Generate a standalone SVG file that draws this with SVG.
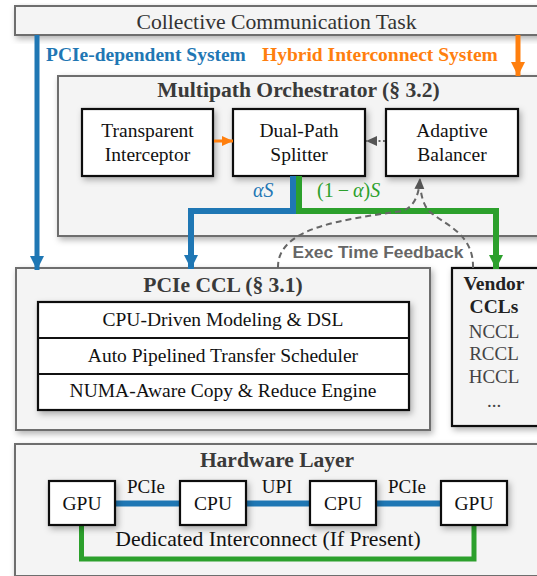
<svg xmlns="http://www.w3.org/2000/svg" width="537" height="576" viewBox="0 0 537 576">
  <style>
    .t { font-family: "Liberation Serif", "Times New Roman", serif; fill: #111; }
    .title { font-family: "Liberation Serif", "Times New Roman", serif; font-weight: bold; fill: #3a3a3a; }
    .outer { fill: #f4f4f4; stroke: #6e6e6e; stroke-width: 2; }
    .inner { fill: #ffffff; stroke: #111; stroke-width: 2.2; }
    .blue { stroke: #1f77b4; fill: none; }
    .green { stroke: #2ca02c; fill: none; }
    .fb { stroke: #666; stroke-width: 2; stroke-dasharray: 6 4; fill: none; }
  </style>
  <defs>
    <filter id="sh" x="-10%" y="-10%" width="130%" height="140%">
      <feDropShadow dx="2" dy="3" stdDeviation="3" flood-color="#000" flood-opacity="0.3"/>
    </filter>
    <marker id="ahBlue" markerUnits="userSpaceOnUse" markerWidth="16" markerHeight="16" viewBox="0 0 16 16" refX="14" refY="8" orient="auto">
      <path d="M0,1 L14,8 L0,15 Z" fill="#1f77b4"/>
    </marker>
    <marker id="ahGreen" markerUnits="userSpaceOnUse" markerWidth="16" markerHeight="16" viewBox="0 0 16 16" refX="14" refY="8" orient="auto">
      <path d="M0,1 L14,8 L0,15 Z" fill="#2ca02c"/>
    </marker>
    <marker id="ahOrange" markerUnits="userSpaceOnUse" markerWidth="16" markerHeight="16" viewBox="0 0 16 16" refX="14" refY="8" orient="auto">
      <path d="M0,1 L14,8 L0,15 Z" fill="#ff7f0e"/>
    </marker>
    <marker id="ahOrangeS" markerUnits="userSpaceOnUse" markerWidth="12" markerHeight="12" viewBox="0 0 12 12" refX="11" refY="6" orient="auto">
      <path d="M0,1 L11,6 L0,11 Z" fill="#ff7f0e"/>
    </marker>
    <marker id="ahGray" markerUnits="userSpaceOnUse" markerWidth="12" markerHeight="12" viewBox="0 0 12 12" refX="11" refY="6" orient="auto">
      <path d="M0,1 L11,6 L0,11 Z" fill="#555"/>
    </marker>
  </defs>

  <rect width="537" height="576" fill="#ffffff"/>

  <!-- task header -->
  <g id="task">
    <rect x="15" y="6" width="530" height="29" fill="#f4f4f4" stroke="#6e6e6e" stroke-width="2" filter="url(#sh)"/>
    <text class="t" x="276.5" y="29" font-size="21.7" text-anchor="middle" style="fill:#333">Collective Communication Task</text>
  </g>

  <!-- system labels -->
  <g id="system-labels" font-family="Liberation Serif, serif" font-weight="bold" font-size="19.5">
    <text x="46" y="61" fill="#1f77b4">PCIe-dependent System</text>
    <text x="262" y="61" fill="#ff7f0e">Hybrid Interconnect System</text>
  </g>

  <!-- multipath orchestrator -->
  <g id="orchestrator">
    <rect class="outer" x="58" y="76" width="490" height="160" filter="url(#sh)"/>
    <text class="title" x="298.5" y="97" font-size="21.6" text-anchor="middle">Multipath Orchestrator (§ 3.2)</text>
  </g>
  <g id="interceptor">
    <rect class="inner" x="82" y="109" width="131" height="67" filter="url(#sh)"/>
    <text class="t" x="147.5" y="137" font-size="19.5" text-anchor="middle">Transparent</text>
    <text class="t" x="147.5" y="161" font-size="19.5" text-anchor="middle">Interceptor</text>
  </g>
  <g id="splitter">
    <rect class="inner" x="233" y="109" width="132" height="67" filter="url(#sh)"/>
    <text class="t" x="299" y="137" font-size="19.5" text-anchor="middle">Dual-Path</text>
    <text class="t" x="299" y="161" font-size="19.5" text-anchor="middle">Splitter</text>
  </g>
  <g id="balancer">
    <rect class="inner" x="386" y="109" width="132" height="67" filter="url(#sh)"/>
    <text class="t" x="452" y="137" font-size="19.5" text-anchor="middle">Adaptive</text>
    <text class="t" x="452" y="161" font-size="19.5" text-anchor="middle">Balancer</text>
  </g>

  <!-- PCIe CCL -->
  <g id="pcie-ccl">
    <rect class="outer" x="16" y="268" width="414" height="162" filter="url(#sh)"/>
    <text class="title" x="223" y="292" font-size="21.6" text-anchor="middle">PCIe CCL (§ 3.1)</text>
    <g filter="url(#sh)">
      <rect class="inner" x="38" y="302" width="371" height="108"/>
    </g>
    <line x1="38" y1="338" x2="409" y2="338" stroke="#111" stroke-width="2.2"/>
    <line x1="38" y1="374" x2="409" y2="374" stroke="#111" stroke-width="2.2"/>
    <text class="t" x="223" y="326" font-size="19.5" text-anchor="middle">CPU-Driven Modeling &amp; DSL</text>
    <text class="t" x="223" y="362" font-size="19.5" text-anchor="middle">Auto Pipelined Transfer Scheduler</text>
    <text class="t" x="223" y="397" font-size="19.5" text-anchor="middle">NUMA-Aware Copy &amp; Reduce Engine</text>
  </g>

  <!-- vendor CCLs -->
  <g id="vendor-ccls">
    <rect x="452" y="268" width="100" height="158" fill="#f4f4f4" stroke="#111" stroke-width="2.2" filter="url(#sh)"/>
    <text class="title" x="494" y="290" font-size="19.5" text-anchor="middle" style="fill:#222">Vendor</text>
    <text class="title" x="494" y="313" font-size="19.5" text-anchor="middle" style="fill:#222">CCLs</text>
    <g font-family="Liberation Serif, serif" font-size="19" fill="#444" text-anchor="middle">
      <text x="494" y="338">NCCL</text>
      <text x="494" y="360">RCCL</text>
      <text x="494" y="383">HCCL</text>
      <text x="494" y="407">...</text>
    </g>
  </g>

  <!-- hardware layer -->
  <g id="hardware">
    <rect class="outer" x="15" y="444" width="540" height="132" filter="url(#sh)"/>
    <text class="title" x="277" y="467" font-size="21.5" text-anchor="middle">Hardware Layer</text>
  </g>

  <!-- connectors -->
  <g id="connectors">
    <!-- system entry arrows -->
    <line x1="37" y1="35" x2="37" y2="270" stroke="#1f77b4" stroke-width="5" marker-end="url(#ahBlue)"/>
    <line x1="518" y1="35" x2="518" y2="76" stroke="#ff7f0e" stroke-width="5" marker-end="url(#ahOrange)"/>
    <!-- interceptor to splitter -->
    <line x1="214" y1="141" x2="233" y2="141" stroke="#ff7f0e" stroke-width="3" marker-end="url(#ahOrangeS)"/>
    <!-- balancer to splitter -->
    <line x1="385" y1="141" x2="366" y2="141" stroke="#666" stroke-width="2" stroke-dasharray="2 2.5" marker-end="url(#ahGray)"/>
    <!-- split paths -->
    <path class="blue" d="M293 176 V211 H191 V269" stroke-width="6" marker-end="url(#ahBlue)"/>
    <path class="green" d="M299 176 V211 H496 V269" stroke-width="6" marker-end="url(#ahGreen)"/>
    <!-- execution time feedback -->
    <path class="fb" d="M278 268 C 277 228, 340 220, 402 211 C 414 207, 419 196, 420 178" marker-end="url(#ahGray)"/>
    <path class="fb" d="M473 268 C 474 232, 442 224, 428 210 C 424 205, 422 198, 421 192"/>
    <!-- hardware links -->
    <line x1="115" y1="503.5" x2="180" y2="503.5" stroke="#1f77b4" stroke-width="6"/>
    <line x1="246" y1="503.5" x2="310" y2="503.5" stroke="#1f77b4" stroke-width="6"/>
    <line x1="376" y1="503.5" x2="441" y2="503.5" stroke="#1f77b4" stroke-width="6"/>
    <path class="green" d="M81.5 525 V559 H474 V525" stroke-width="5"/>
  </g>

  <!-- connector labels -->
  <g id="labels">
    <text x="253" y="197" font-family="Liberation Serif, serif" font-style="italic" font-size="20" fill="#1f77b4">αS</text>
    <text x="317" y="197" font-family="Liberation Serif, serif" font-size="20" fill="#2ca02c">(1<tspan dx="4">−</tspan><tspan dx="4" font-style="italic">α</tspan>)<tspan font-style="italic">S</tspan></text>
    <text x="378" y="258" font-family="Liberation Sans, Arial, sans-serif" font-weight="bold" font-size="17.4" fill="#666" text-anchor="middle">Exec Time Feedback</text>
    <text class="t" x="146" y="493" font-size="19" text-anchor="middle">PCIe</text>
    <text class="t" x="277" y="493" font-size="19" text-anchor="middle">UPI</text>
    <text class="t" x="407" y="493" font-size="19" text-anchor="middle">PCIe</text>
    <text class="t" x="268" y="546" font-size="21.7" text-anchor="middle">Dedicated Interconnect (If Present)</text>
  </g>

  <!-- hardware nodes -->
  <g id="gpu-a">
    <rect class="inner" x="49" y="481" width="66" height="44" filter="url(#sh)"/>
    <text class="t" x="82" y="510" font-size="19.5" text-anchor="middle">GPU</text>
  </g>
  <g id="cpu-a">
    <rect class="inner" x="180" y="481" width="66" height="44" filter="url(#sh)"/>
    <text class="t" x="213" y="510" font-size="19.5" text-anchor="middle">CPU</text>
  </g>
  <g id="cpu-b">
    <rect class="inner" x="310" y="481" width="66" height="44" filter="url(#sh)"/>
    <text class="t" x="343" y="510" font-size="19.5" text-anchor="middle">CPU</text>
  </g>
  <g id="gpu-b">
    <rect class="inner" x="441" y="481" width="66" height="44" filter="url(#sh)"/>
    <text class="t" x="474" y="510" font-size="19.5" text-anchor="middle">GPU</text>
  </g>
</svg>
